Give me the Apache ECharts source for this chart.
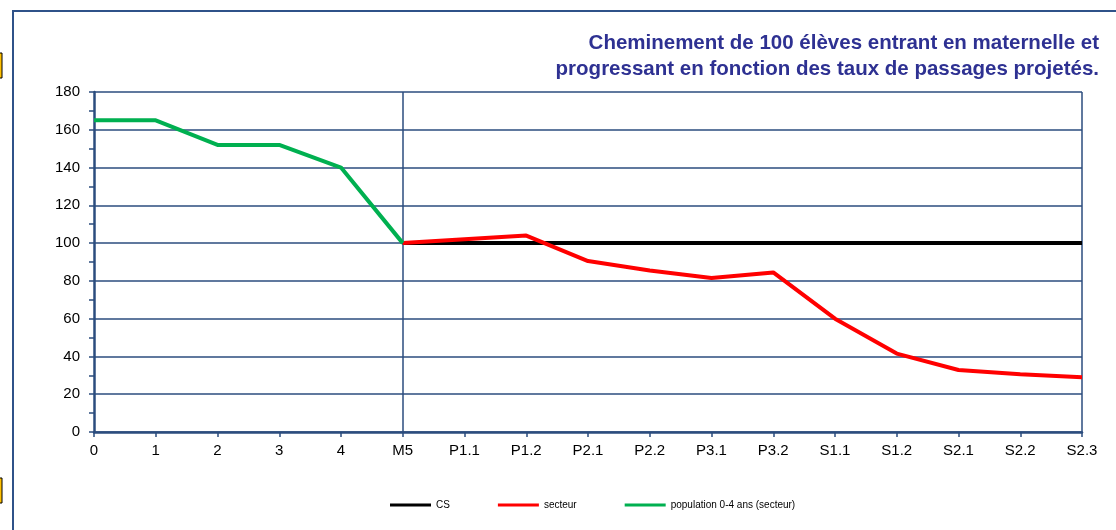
<!DOCTYPE html>
<html><head><meta charset="utf-8">
<script src="https://cdn.jsdelivr.net/npm/echarts@6/dist/echarts.min.js"></script>
<style>html,body{margin:0;padding:0;background:#fff}#c{width:1116px;height:530px}</style>
</head><body><div id="c"></div>
<script>
var categories = ['0','1','2','3','4','M5','P1.1','P1.2','P2.1','P2.2','P3.1','P3.2','S1.1','S1.2','S2.1','S2.2','S2.3'];
var csValues = [null,null,null,null,null,100,100,100,100,100,100,100,100,100,100,100,100];
var secteurValues = [null,null,null,null,null,100,102,104,90.5,85.5,81.5,84.5,60,41.5,32.8,30.6,29];
var populationValues = [165,165,152,152,140,100,null,null,null,null,null,null,null,null,null,null,null];
var yTicks = {min:0, max:180, interval:20};
var titleText = 'Cheminement de 100 élèves entrant en maternelle et\nprogressant en fonction des taux de passages projetés.';

var axisColor = '#2B4C7E';
var chart = echarts.init(document.getElementById('c'));
chart.setOption({
  animation:false,
  backgroundColor:'#fff',
  textStyle:{fontFamily:'Liberation Sans, Arial, sans-serif'},
  graphic:[
    {type:'polyline', shape:{points:[[13,540],[13,11],[1130,11]]}, style:{stroke:'#2F5289', lineWidth:2, fill:null}},
    {type:'rect', shape:{x:-2,y:53,width:4,height:25}, style:{fill:'#FFC000', stroke:'#000', lineWidth:1}},
    {type:'rect', shape:{x:-2,y:478,width:4,height:25}, style:{fill:'#FFC000', stroke:'#000', lineWidth:1}},
    {type:'text', x:1099, y:30, style:{text:titleText, textAlign:'right', textVerticalAlign:'top', fill:'#2E3192', font:'bold 20.5px "Liberation Sans", Arial, sans-serif', lineHeight:26}}
  ],
  legend:{
    bottom:15, left:385, itemGap:48, itemWidth:41, itemHeight:3, icon:'rect',
    textStyle:{fontSize:10, color:'#000', fontFamily:'Liberation Sans, Arial, sans-serif'},
    data:['CS','secteur','population 0-4 ans (secteur)']
  },
  grid:{left:94, right:34, top:92, bottom:98, containLabel:false},
  xAxis:{
    type:'category', data:categories, boundaryGap:false,
    axisLine:{lineStyle:{color:axisColor, width:2.5}},
    axisTick:{show:true, alignWithLabel:true, length:5, lineStyle:{color:axisColor, width:1.5}},
    axisLabel:{color:'#000', fontSize:15, margin:11, interval:0},
    splitLine:{show:true, interval:function(i){return i===5||i===16;}, lineStyle:{color:axisColor, width:1.5}}
  },
  yAxis:{
    type:'value', min:yTicks.min, max:yTicks.max, interval:yTicks.interval,
    axisLine:{show:true, lineStyle:{color:axisColor, width:2.5}},
    axisTick:{show:true, length:5, lineStyle:{color:axisColor, width:1.5}},
    minorTick:{show:true, splitNumber:2, length:5, lineStyle:{color:axisColor, width:1.5}},
    axisLabel:{color:'#000', fontSize:15, margin:14},
    splitLine:{show:true, lineStyle:{color:axisColor, width:1.5}}
  },
  series:[
    {name:'CS', type:'line', data:csValues, showSymbol:false, symbol:'none', lineStyle:{color:'#000', width:4}, itemStyle:{color:'#000'}, z:3},
    {name:'secteur', type:'line', data:secteurValues, showSymbol:false, symbol:'none', lineStyle:{color:'#FF0000', width:4}, itemStyle:{color:'#FF0000'}, z:4},
    {name:'population 0-4 ans (secteur)', type:'line', data:populationValues, showSymbol:false, symbol:'none', lineStyle:{color:'#00B050', width:4}, itemStyle:{color:'#00B050'}, z:5}
  ]
});
</script>
</body></html>
